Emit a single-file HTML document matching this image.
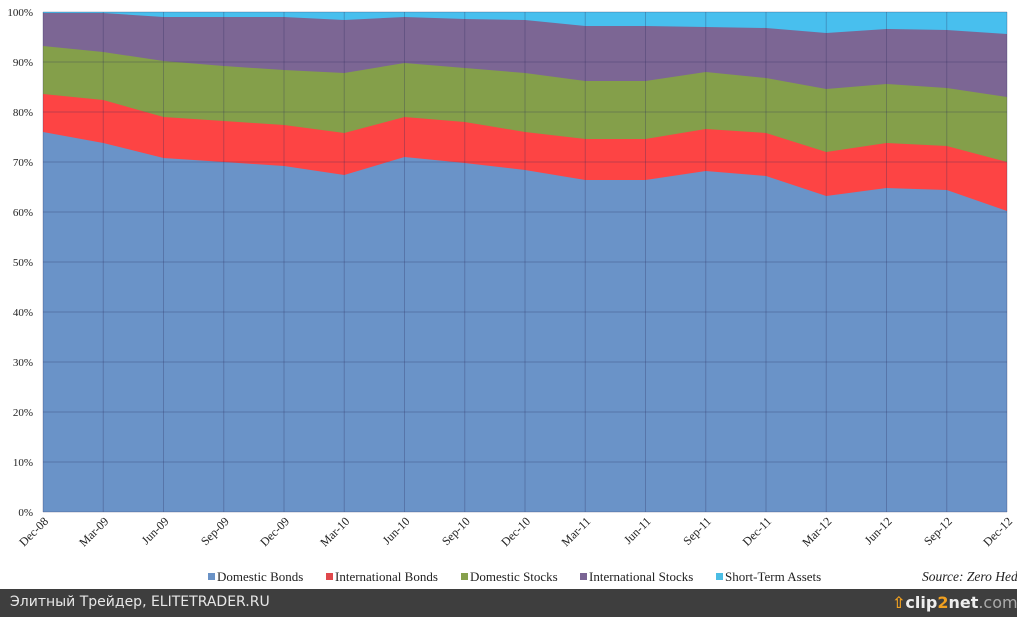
<!DOCTYPE html>
<html><head><meta charset="utf-8"><style>
body{margin:0;width:1017px;height:617px;overflow:hidden;background:#fff;font-family:"Liberation Serif",serif;}
svg{position:absolute;left:0;top:0}
.bar{position:absolute;left:0;top:589px;width:1017px;height:28px;background:#3e3e3e;color:#e8e8e8;font-family:"DejaVu Sans","Liberation Sans",sans-serif;font-size:14px;white-space:nowrap;overflow:hidden}
</style></head><body>
<svg id="s" width="1017" height="589" xmlns="http://www.w3.org/2000/svg" font-family="Liberation Serif, serif">
<g id="areas"></g>
<g id="grid" stroke="rgba(40,40,90,0.28)" stroke-width="1"></g>
<g font-size="11" fill="#222" text-anchor="end">
<text x="33" y="16">100%</text><text x="33" y="66">90%</text><text x="33" y="116">80%</text><text x="33" y="166">70%</text><text x="33" y="216">60%</text><text x="33" y="266">50%</text><text x="33" y="316">40%</text><text x="33" y="366">30%</text><text x="33" y="416">20%</text><text x="33" y="466">10%</text><text x="33" y="516">0%</text>
</g>
<g id="xl" font-size="12" fill="#222" text-anchor="end"></g>
<g font-size="13" fill="#222">
<rect x="208" y="573" width="7" height="7" fill="#6a92c6"/><text x="217" y="581">Domestic Bonds</text>
<rect x="326" y="573" width="7" height="7" fill="#e0484c"/><text x="335" y="581">International Bonds</text>
<rect x="461" y="573" width="7" height="7" fill="#86a04c"/><text x="470" y="581">Domestic Stocks</text>
<rect x="580" y="573" width="7" height="7" fill="#7a6494"/><text x="589" y="581">International Stocks</text>
<rect x="716" y="573" width="7" height="7" fill="#4bbde4"/><text x="725" y="581">Short-Term Assets</text>
<text x="922" y="581" font-style="italic" font-size="13.5">Source: Zero Hedge</text>
</g>
</svg>
<div class="bar"><span style="position:absolute;left:10px;top:5px">Элитный Трейдер, ELITETRADER.RU</span>
<span style="position:absolute;left:892px;top:4px;font-size:16px;font-weight:bold;color:#eee"><span style="color:#f0a020">⇧</span>clip<span style="color:#f0a020">2</span>net<span style="color:#aaa;font-weight:normal">.com</span></span></div>
<script>
var x0=43,dx=60.25,yb=512;
var tops=[
[12,12,12,12,12,12,12,12,12,12,12,12,12,12,12,12,12],
[13,13,17,17,17,20,17,19,20,26,26,27,28,33,29,30,34],
[46,52,61,66,70,73,63,68,73,81,81,72,78,89,84,88,97],
[94,100,117,121,125,133,117,122,132,139,139,129,133,152,143,146,162],
[132,143,158,162,166,175,157,163,170,180,180,171,176,196,188,190,211]];
var cols=["#48bfee","#7c6694","#849f4a","#fd4444","#6a93c8"];
var ns="http://www.w3.org/2000/svg",A=document.getElementById("areas");
for(var k=0;k<5;k++){var p=[];for(var i=0;i<17;i++)p.push((x0+i*dx)+","+tops[k][i]);
p.push((x0+16*dx)+","+yb);p.push(x0+","+yb);
var e=document.createElementNS(ns,"polygon");e.setAttribute("points",p.join(" "));e.setAttribute("fill",cols[k]);A.appendChild(e);}
var G=document.getElementById("grid");
for(var j=0;j<=10;j++){var y=12+j*50;var l=document.createElementNS(ns,"line");l.setAttribute("x1",x0);l.setAttribute("x2",x0+16*dx);l.setAttribute("y1",y);l.setAttribute("y2",y);G.appendChild(l);}
for(var i=0;i<=16;i++){var x=x0+i*dx;var l=document.createElementNS(ns,"line");l.setAttribute("x1",x);l.setAttribute("x2",x);l.setAttribute("y1",12);l.setAttribute("y2",512);G.appendChild(l);}
var labs=["Dec-08","Mar-09","Jun-09","Sep-09","Dec-09","Mar-10","Jun-10","Sep-10","Dec-10","Mar-11","Jun-11","Sep-11","Dec-11","Mar-12","Jun-12","Sep-12","Dec-12"];
var X=document.getElementById("xl");
for(var i=0;i<17;i++){var x=x0+i*dx+6;var y=522;var t=document.createElementNS(ns,"text");t.setAttribute("x",x);t.setAttribute("y",y);t.setAttribute("transform","rotate(-45 "+x+" "+y+")");t.textContent=labs[i];X.appendChild(t);}
</script>
</body></html>
